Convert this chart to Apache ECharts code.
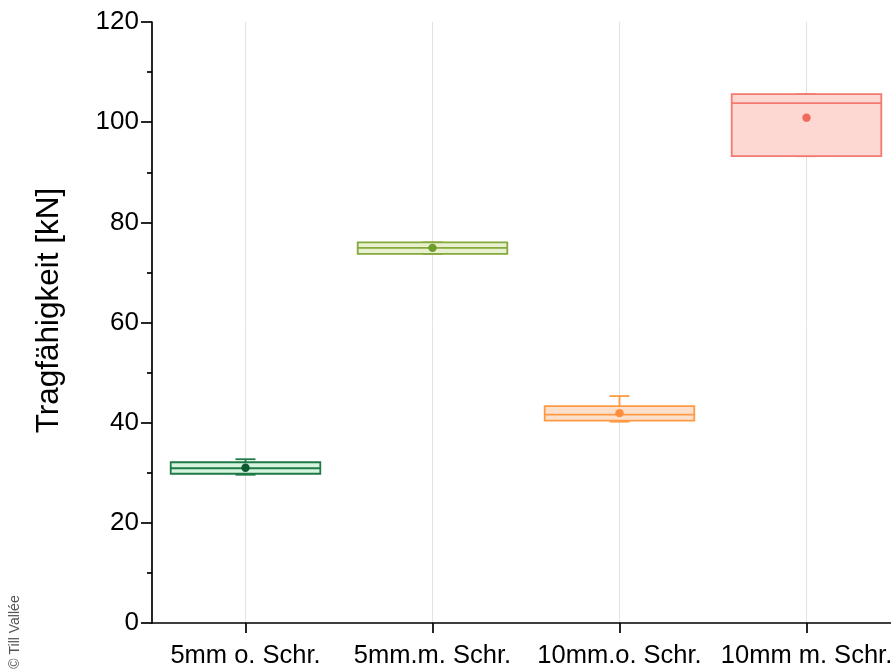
<!DOCTYPE html>
<html>
<head>
<meta charset="utf-8">
<script src="https://cdn.jsdelivr.net/npm/echarts@6/dist/echarts.min.js"></script>
<style>
  html, body { margin: 0; padding: 0; background: #ffffff; }
  #chart { width: 891px; height: 672px; }
</style>
</head>
<body>
<div id="chart"></div>
<script>
// ---- data ----
var categories = ['5mm o. Schr.', '5mm.m. Schr.', '10mm.o. Schr.', '10mm m. Schr.'];
var minVals    = [29.6, 73.7, 40.2, 93.2];
var q1Vals     = [29.8, 73.7, 40.4, 93.2];
var medianVals = [30.9, 74.9, 41.6, 103.8];
var q3Vals     = [32.1, 76.0, 43.3, 105.6];
var maxVals    = [32.7, 76.0, 45.3, 105.6];
var meanVals   = [31.0, 74.9, 41.9, 100.9];
var yTicks     = { min: 0, max: 120, interval: 20 };

// ---- styles ----
var borderColors = ['#1f7a45', '#86a83c', '#ff9a44', '#f37a6f'];
var fillColors   = ['#d6f4df', '#e7f0cf', '#fde0cc', '#fdd7d1'];
var meanColors   = ['#0c5b30', '#6f9c2b', '#ff8d3b', '#f0695a'];
var FONT = 'Liberation Sans, Arial, Helvetica, sans-serif';

var boxData = categories.map(function (c, i) {
  return [i, minVals[i], q1Vals[i], medianVals[i], q3Vals[i], maxVals[i], meanVals[i]];
});

function renderBox(params, api) {
  var i = api.value(0);
  var band = api.size([1, 0])[0];
  var boxW = band * 0.8;
  var capW = band * 0.107;
  var pMin = api.coord([i, api.value(1)]);
  var pQ1 = api.coord([i, api.value(2)]);
  var pMed = api.coord([i, api.value(3)]);
  var pQ3 = api.coord([i, api.value(4)]);
  var pMax = api.coord([i, api.value(5)]);
  var pMean = api.coord([i, api.value(6)]);
  var cx = pQ1[0];
  var stroke = borderColors[i];
  var lw = 1.8;
  var children = [];
  children.push({ type: 'line', shape: { x1: cx, y1: pQ3[1], x2: cx, y2: pMax[1] }, style: { stroke: stroke, lineWidth: lw } });
  children.push({ type: 'line', shape: { x1: cx, y1: pQ1[1], x2: cx, y2: pMin[1] }, style: { stroke: stroke, lineWidth: lw } });
  children.push({ type: 'line', shape: { x1: cx - capW / 2, y1: pMax[1], x2: cx + capW / 2, y2: pMax[1] }, style: { stroke: stroke, lineWidth: lw } });
  children.push({ type: 'line', shape: { x1: cx - capW / 2, y1: pMin[1], x2: cx + capW / 2, y2: pMin[1] }, style: { stroke: stroke, lineWidth: lw } });
  children.push({
    type: 'rect',
    shape: { x: cx - boxW / 2, y: pQ3[1], width: boxW, height: pQ1[1] - pQ3[1] },
    style: { fill: fillColors[i], stroke: stroke, lineWidth: lw }
  });
  children.push({ type: 'line', shape: { x1: cx - boxW / 2, y1: pMed[1], x2: cx + boxW / 2, y2: pMed[1] }, style: { stroke: stroke, lineWidth: lw } });
  children.push({ type: 'circle', shape: { cx: cx, cy: pMean[1], r: 4.2 }, style: { fill: meanColors[i] } });
  return { type: 'group', children: children };
}

var chart = echarts.init(document.getElementById('chart'), null, { renderer: 'canvas' });
chart.setOption({
  backgroundColor: '#ffffff',
  animation: false,
  grid: { left: 152, top: 22, width: 748, bottom: 49, containLabel: false, outerBoundsMode: 'none' },
  xAxis: {
    type: 'category',
    data: categories,
    boundaryGap: true,
    axisLine: { show: true, lineStyle: { color: '#000', width: 1.7 } },
    axisTick: { show: true, alignWithLabel: true, length: 10, lineStyle: { color: '#000', width: 1.7 } },
    axisLabel: { color: '#000', fontSize: 25.5, fontFamily: FONT, margin: 20, interval: 0 },
    splitLine: { show: true, alignWithLabel: true, lineStyle: { color: '#e2e2e2', width: 1 } }
  },
  yAxis: {
    type: 'value',
    min: yTicks.min,
    max: yTicks.max,
    interval: yTicks.interval,
    name: 'Tragfähigkeit [kN]',
    nameLocation: 'middle',
    nameGap: 87,
    nameTextStyle: { color: '#000', fontSize: 31.5, fontFamily: FONT, padding: [0, 0, 0, 24] },
    axisLine: { show: true, lineStyle: { color: '#000', width: 1.7 } },
    axisTick: { show: true, inside: false, length: 11, lineStyle: { color: '#000', width: 1.7 } },
    minorTick: { show: true, splitNumber: 2, length: 5, lineStyle: { color: '#000', width: 1.7 } },
    axisLabel: { color: '#000', fontSize: 26, fontFamily: FONT, margin: 13 },
    splitLine: { show: false }
  },
  graphic: [{
    type: 'text',
    x: 15,
    y: 632,
    rotation: Math.PI / 2,
    style: { text: '© Till Vallée', fontSize: 14, fontFamily: FONT, fill: '#555', align: 'center', verticalAlign: 'middle' }
  }],
  series: [{
    type: 'custom',
    renderItem: renderBox,
    data: boxData,
    encode: { x: 0, y: [1, 2, 3, 4, 5, 6] },
    z: 5
  }]
});
</script>
</body>
</html>
